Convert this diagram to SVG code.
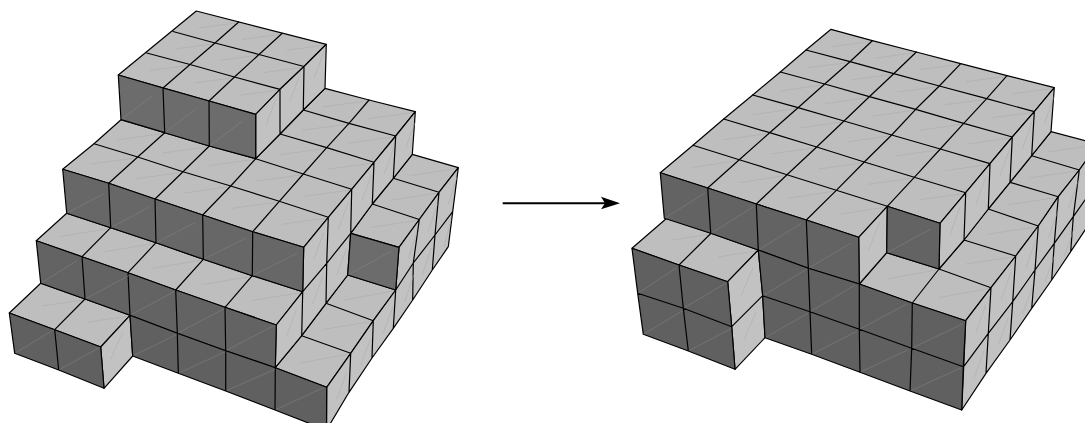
<svg xmlns="http://www.w3.org/2000/svg" width="1085" height="423" viewBox="0 0 1085 423">
<style>
.e{stroke:#000;stroke-width:1.2;stroke-linejoin:round;stroke-linecap:round}
.top{fill:#bebebe}.side{fill:#c2c2c2}
.d1{fill:#6c6c6c}.d2{fill:#676767}.d3{fill:#636363}.d4{fill:#606060}
.g{fill:none}
.dt{fill:none;stroke:#a8a8a8;stroke-width:.5}
.ds{fill:none;stroke:#a8a8a8;stroke-width:.5}
.dd{fill:none;stroke:#868686;stroke-width:.5}
</style>
<rect width="1085" height="423" fill="#fff"/>
<g id="before">
<path class="e top" d="M196.3,11L326.3,44.3L304,66.5L280,89.3L255.7,114.3L118.3,75ZM62.7,169.3L108.7,183.3L155,199L202.7,215L252.7,231.7L303.7,247.3L328.3,217.3L351.7,189.3L374,162.3L395.7,136L415.3,111.7L369,100L325,88.3L303.3,110L280,134L255.7,158.7L209.3,146L164.7,132.7L121,119.7L94,143.7ZM66.7,213.3L110.7,227.7L156,242.7L203.3,259.3L252.3,275.7L302.7,291.7L276.3,325L225,307.3L175.7,290L128,272.7L82,256.7L36.3,240.7ZM350.7,233.3L372.3,204L393.3,178.3L412.3,154.3L458.3,167.7L439,192.3L419.3,219.5L399,247.3ZM40.7,283.3L85,299L130,315.3L100.7,347L54.7,329.7L9.3,313ZM275.3,367.7L301.7,335.7L326,303.3L347.7,275L395.7,290L373.3,320.7L350.7,353.3L326.7,387.3Z"/>
<path class="e g" d="M238.7,22L215,43L190,64.5L163,88M282,33.5L259,54.5L234.5,77L209,101M173,31.5L215,43L259,54.5L304,66.5M146.7,53L190,64.5L234.5,77L280,89.3M94,143.7L137.7,157L183,171.7L230.7,186L279.3,201.3L328.3,217.3M255.7,158.7L303.3,174L351.7,189.3M280,134L326.7,147.7L374,162.3M303.3,110L349,123.3L395.7,136M108.7,183.3L137.7,157L164.7,132.7M155,199L183,171.7L209.3,146M202.7,215L230.7,186L255.7,158.7M252.7,231.7L279.3,201.3L303.3,174L326.7,147.7L349,123.3L369,100M82,256.7L110.7,227.7M128,272.7L156,242.7M175.7,290L203.3,259.3M225,307.3L252.3,275.7M372.3,204L419.3,219.5M393.3,178.3L439,192.3M54.7,329.7L85,299M301.7,335.7L350.7,353.3M326,303.3L373.3,320.7"/>
<path class="e side" d="M255.7,114.3L280,89.3L280,134L255.7,158.7ZM280,89.3L304,66.5L303.3,110L280,134ZM304,66.5L326.3,44.3L325,88.3L303.3,110ZM303.7,247.3L328.3,217.3L326.7,263.3L302.7,291.7ZM328.3,217.3L351.7,189.3L350.7,233.3L326.7,263.3ZM351.7,189.3L374,162.3L372.3,204L350.7,233.3ZM374,162.3L395.7,136L393.3,178.3L372.3,204ZM395.7,136L415.3,111.7L412.3,154.3L393.3,178.3ZM302.7,291.7L326.7,263.3L326,303.3L301.7,335.7ZM326.7,263.3L350.7,233.3L347.7,275L326,303.3ZM276.3,325L302.7,291.7L301.7,335.7L275.3,367.7ZM100.7,347L130,315.3L132.7,356L104,388.3ZM326.7,387.3L350.7,353.3L349,392.3L326.5,430ZM350.7,353.3L373.3,320.7L372,358L349,392.3ZM373.3,320.7L395.7,290L393.3,328.3L372,358ZM399,247.3L419.3,219.5L413.3,263L395.7,290ZM419.3,219.5L439,192.3L435,235L413.3,263ZM439,192.3L458.3,167.7L452.7,211.7L435,235ZM395.7,290L413.3,263L412.7,300L393.3,328.3ZM413.3,263L435,235L432.3,270L412.7,300ZM435,235L452.7,211.7L448.3,246.7L432.3,270Z"/>
<path class="e d1" d="M118.3,75L163,88L164.7,132.7L121,119.7ZM163,88L209,101L209.3,146L164.7,132.7ZM209,101L255.7,114.3L255.7,158.7L209.3,146ZM350.7,233.3L399,247.3L395.7,290L347.7,275Z"/>
<path class="e d2" d="M62.7,169.3L108.7,183.3L110.7,227.7L66.7,213.3ZM108.7,183.3L155,199L156,242.7L110.7,227.7ZM155,199L202.7,215L203.3,259.3L156,242.7ZM202.7,215L252.7,231.7L252.3,275.7L203.3,259.3ZM252.7,231.7L303.7,247.3L302.7,291.7L252.3,275.7Z"/>
<path class="e d3" d="M36.3,240.7L82,256.7L85,299L40.7,283.3ZM82,256.7L128,272.7L130,315.3L85,299ZM128,272.7L175.7,290L177.3,333.3L130,315.3ZM175.7,290L225,307.3L225.7,350.7L177.3,333.3ZM225,307.3L276.3,325L275.3,367.7L225.7,350.7Z"/>
<path class="e d4" d="M9.3,313L54.7,329.7L58.7,370L14.7,353.3ZM54.7,329.7L100.7,347L104,388.3L58.7,370ZM130,315.3L177.3,333.3L178.3,373.3L132.7,356ZM177.3,333.3L225.7,350.7L225.7,391L178.3,373.3ZM225.7,350.7L275.3,367.7L275,410L225.7,391ZM275.3,367.7L326.7,387.3L326.5,430L275,410Z"/>
<path class="dt" d="M235.7,23l-37,5M279,34.5l-37,5M323.3,45.3l-37,5M212,44l-37,5M256,55.5l-37,5M301,67.5l-37,5M187,65.5l-37,5M231.5,78l-37,5M277,90.3l-37,5M134.7,158l-44,6M180,172.7l-44,6M227.7,187l-44,6M276.3,202.3l-44,6M325.3,218.3l-44,6M161.7,133.7l-44,6M206.3,147l-44,6M252.7,159.7l-44,6M300.3,175l-44,6M348.7,190.3l-44,6M323.7,148.7l-44,6M371,163.3l-44,6M346,124.3l-44,6M392.7,137l-44,6M366,101l-44,6M412.3,112.7l-44,6M107.7,228.7l-48,8M153,243.7l-48,8M200.3,260.3l-48,8M249.3,276.7l-48,8M299.7,292.7l-48,8M416.3,220.5l-46,7M436,193.3l-46,7M455.3,168.7l-46,7M82,300l-40,6M127,316.3l-40,6M347.7,354.3l-49,9M370.3,321.7l-49,8M392.7,291l-48,9"/>
<path class="ds" d="M265.7,126.3l10,-27M290,101.3l10,-27M314,78.5l10,-27M313.7,259.3l10,-27M338.3,229.3l10,-27M361.7,201.3l10,-27M384,174.3l10,-27M405.7,148l10,-27M312.7,303.7l10,-27M336.7,275.3l10,-27M286.3,337l10,-27M110.7,359l12,-27M336.7,399.3l10,-27M360.7,365.3l10,-27M383.3,332.7l10,-27M408,259.3l9,-27M428.3,231.5l9,-27M448,204.3l9,-27M404.7,302l9,-27M422.3,275l9,-27M444,247l7,-27"/>
<path class="dd" d="M122,119l30,-23M165.7,132l30,-23M210.3,145.3l32,-24M67.7,212.8l36,-19M111.7,227.2l37,-20M157,242.2l39,-20M204.3,258.8l42,-21M253.3,275.2l44,-22M41.7,282.8l35,-22M86,298.5l43,-23M131,314.8l43,-23M178.3,332.8l46,-24M226.7,350.2l48,-25M15.7,352.8l38,-23M59.7,369.5l40,-22M133.7,355.5l43,-21M179.3,372.8l46,-21M226.7,390.5l48,-21M276,409.5l48,-22M348.7,274.5l42,-23"/>
</g>
<g id="arrow">
<path d="M502.7,203.3H606" fill="none" stroke="#000" stroke-width="2"/>
<path d="M620,203.3L601,196.7L605,203.3L601,209.3Z" fill="#000"/>
</g>
<g id="after">
<path class="e top" d="M660.3,172.7L707.7,188L756.3,204L806.3,220L858.7,237.3L887.3,206.3L940,223.3L965.7,192.7L990,163.7L1012.3,137L1034.3,111.7L1054.3,87.7L1007,75.7L960.7,63.7L916.3,52L872.3,40.7L831,29.3L806,50L780.3,72L752.7,95L723.7,119L693,145.3ZM859.3,284L886.7,252.7L939,269L964,240L988.3,209L1010,182.3L1031.7,155.7L1051,131.7L1098,144L1079.3,170L1058.3,196.7L1038.3,226L1015.7,256L991,287.7L965.7,320.7L912.3,303ZM666.7,218.3L711,233.3L758.3,250L727.7,281.7L679,265L632,248.3Z"/>
<path class="e g" d="M806,50L850,61.7L893.7,73.7L939.3,86L986.7,98.7L1034.3,111.7M780.3,72L824.7,84L869.3,96.7L915.7,109.3L963.7,123.3L1012.3,137M752.7,95L798,107.7L844,121L891.7,135L940.3,149L990,163.7M723.7,119L769.7,132.7L816.7,147L864.3,162L914.3,177.3L965.7,192.7M693,145.3L739.3,159.7L787,174.7L836.3,190.3L887.3,206.3M872.3,40.7L850,61.7L824.7,84L798,107.7L769.7,132.7L739.3,159.7L707.7,188M916.3,52L893.7,73.7L869.3,96.7L844,121L816.7,147L787,174.7L756.3,204M960.7,63.7L939.3,86L915.7,109.3L891.7,135L864.3,162L836.3,190.3L806.3,220M1007,75.7L986.7,98.7L963.7,123.3L940.3,149L914.3,177.3L887.3,206.3M912.3,303L939,269L991,287.7M964,240L1015.7,256M988.3,209L1038.3,226M1010,182.3L1058.3,196.7M1031.7,155.7L1079.3,170M679,265L711,233.3"/>
<path class="e side" d="M1034.3,111.7L1054.3,87.7L1051,131.7L1031.7,155.7ZM1012.3,137L1034.3,111.7L1031.7,155.7L1010,182.3ZM990,163.7L1012.3,137L1010,182.3L988.3,209ZM965.7,192.7L990,163.7L988.3,209L964,240ZM940,223.3L965.7,192.7L964,240L939,269ZM858.7,237.3L887.3,206.3L886.7,252.7L859.3,284ZM727.7,281.7L758.3,250L762.7,295.7L731.7,326.7ZM731.7,326.7L762.7,295.7L765,337.7L735,369.3ZM965.7,320.7L991,287.7L988.3,333.3L963.7,366.7ZM991,287.7L1015.7,256L1012.7,301.7L988.3,333.3ZM1015.7,256L1038.3,226L1035,270L1012.7,301.7ZM1038.3,226L1058.3,196.7L1054.3,243.3L1035,270ZM1058.3,196.7L1079.3,170L1073.3,216.7L1054.3,243.3ZM1079.3,170L1098,144L1092,190L1073.3,216.7ZM963.7,366.7L988.3,333.3L986,373.3L961.7,410ZM988.3,333.3L1012.7,301.7L1010,340L986,373.3ZM1012.7,301.7L1035,270L1031.7,308.3L1010,340ZM1035,270L1054.3,243.3L1051.7,280L1031.7,308.3ZM1054.3,243.3L1073.3,216.7L1070.7,251.7L1051.7,280ZM1073.3,216.7L1092,190L1089,224L1070.7,251.7Z"/>
<path class="e d3" d="M660.3,172.7L707.7,188L710.7,233.3L664.3,218.3ZM707.7,188L756.3,204L758.3,250L710.7,233.3ZM756.3,204L806.3,220L808.3,268.3L758.3,250ZM806.3,220L858.7,237.3L859.3,284L808.3,268.3ZM887.3,206.3L940,223.3L939,269L886.7,252.7Z"/>
<path class="e d4" d="M632,248.3L679,265L683.3,308.3L637.7,293.3ZM679,265L727.7,281.7L731.7,326.7L683.3,308.3ZM637.7,293.3L683.3,308.3L688.3,351L643.3,334.3ZM683.3,308.3L731.7,326.7L735,369.3L688.3,351ZM758.3,250L808.3,268.3L810,311.7L762.7,295.7ZM808.3,268.3L859.3,284L859.3,329.3L810,311.7ZM859.3,284L912.3,303L911.7,348.3L859.3,329.3ZM912.3,303L965.7,320.7L963.3,366.7L911.7,348.3ZM762.7,295.7L810,311.7L811.7,354.3L765,337.7ZM810,311.7L859.3,329.3L860,372.3L811.7,354.3ZM859.3,329.3L911.7,348.3L910,391L860,372.3ZM911.7,348.3L963.3,366.7L961.7,410L910,391Z"/>
<path class="dt" d="M869.3,41.7l-38,5M913.3,53l-38,5M957.7,64.7l-38,5M1004,76.7l-38,5M1051.3,88.7l-38,5M847,62.7l-39,5M890.7,74.7l-39,5M936.3,87l-39,5M983.7,99.7l-39,5M1031.3,112.7l-39,5M821.7,85l-41,6M866.3,97.7l-41,6M912.7,110.3l-41,6M960.7,124.3l-41,6M1009.3,138l-41,6M795,108.7l-42,6M841,122l-42,6M888.7,136l-42,6M937.3,150l-42,6M987,164.7l-42,6M766.7,133.7l-43,6M813.7,148l-43,6M861.3,163l-43,6M911.3,178.3l-43,6M962.7,193.7l-43,6M736.3,160.7l-45,7M784,175.7l-45,7M833.3,191.3l-45,7M884.3,207.3l-45,7M936,270l-49,9M988,288.7l-50,9M1012.7,257l-47,7M1035.3,227l-47,7M1055.3,197.7l-47,7M1076.3,171l-47,7M1095,145l-47,7M708,234.3l-37,6M755.3,251l-37,6"/>
<path class="ds" d="M1044.3,124l10,-28M1022.3,149l10,-28M1000,176l10,-28M975.7,205l10,-28M950,235l10,-28M868.7,250l11,-28M741,296l12,-28M744,340l12,-28M975.7,333l10,-28M1001,300l10,-28M1025.7,268l10,-28M1048.3,238l10,-28M1068.3,209l10,-28M973.7,379l10,-28M998.3,345l10,-28M1022.7,314l10,-28M1045,282l10,-28M1064.3,256l10,-28"/>
<path class="dd" d="M665.3,217.8l40,-25M711.7,232.8l42,-26M759.3,249.5l42,-26M809.3,267.8l42,-25M887.7,252.2l43,-23M638.7,292.8l38,-25M684.3,307.8l42,-25M644.3,333.8l38,-23M689.3,350.5l42,-22M763.7,295.2l43,-26M811,311.2l44,-26M860.3,328.8l47,-25M912.7,347.8l50,-24M766,337.2l42,-24M812.7,353.8l45,-23M861,371.8l47,-22M911,390.5l51,-23"/>
</g>
</svg>
